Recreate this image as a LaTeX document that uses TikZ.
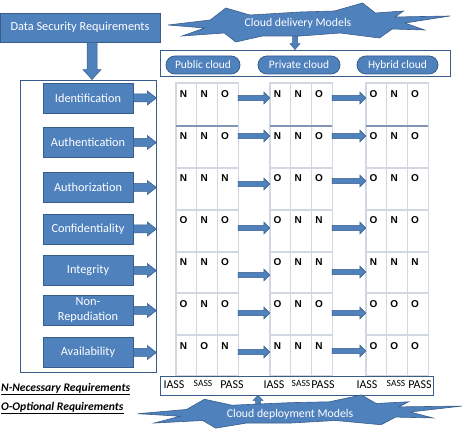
\documentclass[tikz,border=0pt]{standalone}
\usepackage{fontspec}
\setmainfont{Carlito}
\newfontfamily\cellfont{Liberation Sans}
\usetikzlibrary{arrows.meta, calc}
\definecolor{boxblue}{HTML}{4F81BD}
\definecolor{boxline}{HTML}{385D8A}
\definecolor{gridgray}{HTML}{D2D8E2}
\definecolor{gridrule}{HTML}{8196B4}

\tikzset{
  bluebox/.style={fill=boxblue, draw=boxline, line width=0.8pt, text=white, align=center,
    inner sep=2pt, font=\fontsize{12.3}{14}\selectfont},
  cloudpill/.style={bluebox, rounded corners=9pt, minimum height=18pt, font=\fontsize{11.4}{12}\selectfont},
  frame/.style={draw=boxline, line width=0.8pt, inner sep=0pt},
  burstfill/.style={fill=boxblue, draw=boxline, line width=0.6pt},
  bursttext/.style={text=white, inner sep=0pt, font=\fontsize{11.8}{13}\selectfont},
  gridline/.style={draw=gridgray, line width=1.2pt},
  cellletter/.style={inner sep=0pt, font=\cellfont\fontsize{10}{11}\selectfont\bfseries},
  legend/.style={inner sep=0pt, font=\fontsize{11.6}{13}\selectfont\bfseries\itshape},
  svclabel/.style={inner sep=0pt, anchor=base, font=\fontsize{12}{13}\selectfont},
  % block arrow: shaft half width, head half width, head length
  blkarrow/.style n args={3}{fill=boxblue, draw=boxline, line width=0.5pt,
    to path={($(\tikztostart)!#1!90:(\tikztotarget)$)
      -- ($($(\tikztotarget)!#3!(\tikztostart)$)!#1!90:(\tikztotarget)$)
      -- ($($(\tikztotarget)!#3!(\tikztostart)$)!#2!90:(\tikztotarget)$)
      -- (\tikztotarget)
      -- ($($(\tikztotarget)!#3!(\tikztostart)$)!#2!-90:(\tikztotarget)$)
      -- ($($(\tikztotarget)!#3!(\tikztostart)$)!#1!-90:(\tikztotarget)$)
      -- ($(\tikztostart)!#1!-90:(\tikztotarget)$) -- cycle}},
  hblk/.style={blkarrow={2.6pt}{6pt}{6pt}},
  burst/.pic={
    \path[burstfill] (-1,0.1) -- (-0.7,-0.15) -- (-0.59,-0.75) -- (-0.42,-0.4) -- (-0.06,-0.55)
      -- (0.18,-0.6) -- (0.38,-1) -- (0.47,-0.5) -- (0.67,-0.6) -- (0.61,-0.3) -- (1,-0.35)
      -- (0.68,0) -- (0.82,0.35) -- (0.59,0.3) -- (0.5,0.75) -- (0.22,0.5) -- (-0.06,0.65)
      -- (-0.33,0.65) -- (-0.52,0.95) -- (-0.6,0.5) -- (-0.9,0.65) -- (-0.74,0.25) -- cycle;
  },
}

\begin{document}
\begin{tikzpicture}[x=1pt, y=-1pt]
\useasboundingbox (0,0) rectangle (464,430);

% Requirements column
\node[bluebox, minimum width=160pt, minimum height=29pt] (dsr) at (80,27.5) {Data Security Requirements};
\node[frame, minimum width=136pt, minimum height=292pt] (reqbox) at (88,226) {};
\draw[blkarrow={5pt}{9pt}{10pt}] (92,0 |- dsr.south) to (92,0 |- reqbox.north);

\foreach \y/\name/\txt in {98/ident/Identification, 142.5/authn/Authentication,
    187.5/authz/Authorization, 229/conf/Confidentiality, 270.5/integ/Integrity,
    310.5/nonrep/{Non-\\[1pt]Repudiation}, 352.5/avail/Availability} {
  \node[bluebox, minimum width=90pt, minimum height=30pt] (\name) at (88,\y) {\txt};
  \draw[blkarrow={4pt}{7pt}{9pt}] (\name.east) to (\name.east -| reqbox.east);
}

% Delivery models
\pic[xscale=141, yscale=20] at (309,23) {burst};
\node[bursttext, minimum height=26pt] (delivery) at (298,23) {Cloud delivery Models};
\node[frame, minimum width=290pt, minimum height=26pt] (delivbox) at (305,63) {};
\draw[blkarrow={2.5pt}{5pt}{6pt}] (295,0 |- delivery.south) to (295,0 |- delivbox.north);
\node[cloudpill, minimum width=74pt] (pub) at (203,65) {Public cloud};
\node[cloudpill, minimum width=82pt] (priv) at (299,65) {Private cloud};
\node[cloudpill, minimum width=81pt] (hyb) at (397.5,65) {Hybrid cloud};

% Tables
\foreach \t/\xo in {1/176, 2/270, 3/366} {
  \foreach \c in {0,1,2}
    \draw[gridline] ({\xo+\c*20.7},83) rectangle ({\xo+(\c+1)*20.7},376);
  \foreach \yr in {168,210,252,293,335}
    \draw[gridline] (\xo,\yr) -- ({\xo+62},\yr);
  \draw[gridrule, line width=1.6pt] (\xo,126) -- ({\xo+62},126);
  \node[inner sep=0pt, minimum width=62pt, minimum height=293pt] (tab\t) at ({\xo+31},229.5) {};
}

% N / O entries
\foreach \r/\cells in {0/{N,N,O,N,N,O,O,N,O}, 1/{N,N,O,N,N,O,O,N,O}, 2/{N,N,N,O,N,O,O,N,O},
    3/{O,N,O,O,N,N,O,N,O}, 4/{N,N,O,O,N,N,N,N,N}, 5/{O,N,O,O,N,O,O,O,O}, 6/{N,O,N,N,N,N,O,O,O}} {
  \foreach \v [count=\k from 0] in \cells {
    \pgfmathsetmacro\xx{{176,270,366}[int(\k/3)]+mod(\k,3)*20.7+7.5}
    \node[cellletter] (cell-\r-\k) at (\xx,{83+42*\r+11}) {\v};
  }
}

% Arrows between tables
\foreach \ya/\yb in {98/98, 136/136, 184/181, 228/228, 275/272, 313/313, 352/351} {
  \draw[hblk] (tab1.east |- 0,\ya) to (tab2.west |- 0,\ya);
  \draw[hblk] (tab2.east |- 0,\yb) to (tab3.west |- 0,\yb);
}

% Deployment models
\node[frame, fill=white, minimum width=273pt, minimum height=19pt] (deplbar) at (296.5,385.5) {};
\foreach \xi/\xs/\xp [count=\m] in {174/203/232, 274/301/323, 367/396/420} {
  \node[svclabel] (iass\m) at (\xi,389) {IASS};
  \node[svclabel, font=\fontsize{9.5}{10}\selectfont] (sass\m) at (\xs,387) {SASS};
  \node[svclabel] (pass\m) at (\xp,389) {PASS};
}
\pic[xscale=162, yscale=17] at (300,412) {burst};
\node[bursttext, minimum height=20pt] (deploy) at (290,414) {Cloud deployment Models};
\draw[blkarrow={2.5pt}{5pt}{5pt}] (258,0 |- deploy.north) to (258,0 |- deplbar.south);

% Legend
\node[legend, anchor=west] (legn) at (1,389) {\underline{N-Necessary Requirements}};
\node[legend, anchor=west] (lego) at (1,408) {\underline{O-Optional Requirements}};

\end{tikzpicture}
\end{document}
